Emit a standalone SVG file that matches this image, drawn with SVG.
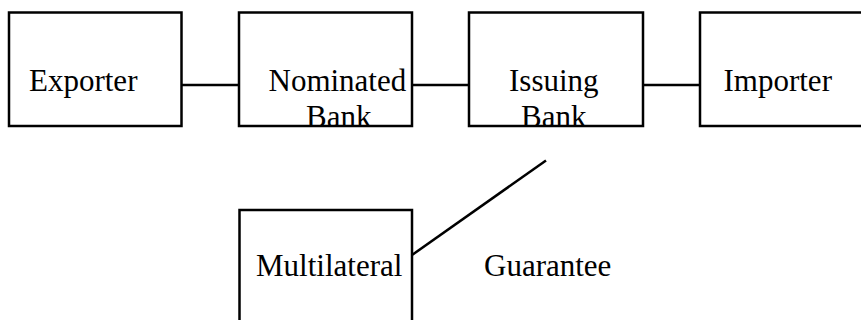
<svg xmlns="http://www.w3.org/2000/svg" width="861" height="320" viewBox="0 0 861 320">
  <style>
    .box { fill: #ffffff; stroke: #000000; stroke-width: 2.5; }
    .link { stroke: #000000; stroke-width: 2.5; fill: none; }
    .label { font-family: "Liberation Serif", "Times New Roman", serif; font-size: 31px; fill: #000000; }
  </style>
  <defs>
    <clipPath id="clipNominated"><rect x="239" y="12" width="173" height="115"/></clipPath>
    <clipPath id="clipIssuing"><rect x="469" y="12" width="174" height="115"/></clipPath>
  </defs>

  <g id="connectors">
    <line class="link" x1="181.5" y1="85" x2="239" y2="85"/>
    <line class="link" x1="412" y1="85" x2="469" y2="85"/>
    <line class="link" x1="643" y1="85" x2="700" y2="85"/>
    <line class="link" x1="412" y1="255" x2="546" y2="160.5"/>
  </g>

  <g id="exporter">
    <rect class="box" x="9" y="12.5" width="172.5" height="113.5"/>
    <text class="label" x="29" y="90.5">Exporter</text>
  </g>

  <g id="nominated-bank">
    <rect class="box" x="239" y="12.5" width="173" height="113.5"/>
    <g clip-path="url(#clipNominated)">
      <text class="label" x="268.5" y="90.5">Nominated</text>
      <text class="label" x="306" y="127">Bank</text>
    </g>
  </g>

  <g id="issuing-bank">
    <rect class="box" x="469" y="12.5" width="174" height="113.5"/>
    <g clip-path="url(#clipIssuing)">
      <text class="label" x="509" y="90.5">Issuing</text>
      <text class="label" x="521" y="127">Bank</text>
    </g>
  </g>

  <g id="importer">
    <rect class="box" x="700" y="12.5" width="180" height="113.5"/>
    <text class="label" x="723.5" y="90.5">Importer</text>
  </g>

  <g id="multilateral">
    <rect class="box" x="239.5" y="210" width="172.5" height="130"/>
    <text class="label" x="256" y="276">Multilateral</text>
  </g>

  <g id="guarantee">
    <text class="label" x="484" y="276">Guarantee</text>
  </g>
</svg>
